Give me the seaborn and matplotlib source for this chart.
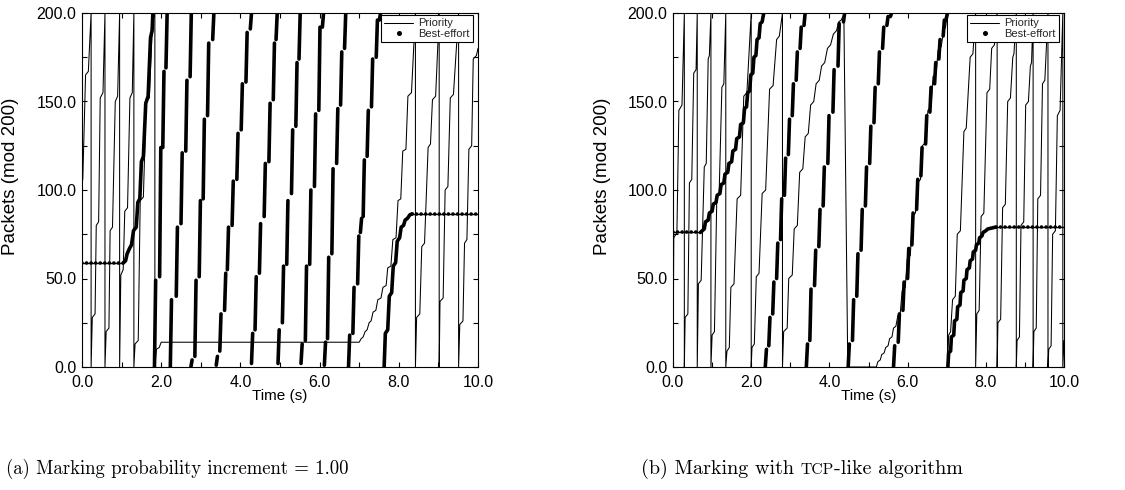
import numpy as np
import pandas as pd
import matplotlib
matplotlib.use("Agg")
import matplotlib.pyplot as plt
import seaborn as sns
from matplotlib.lines import Line2D
from matplotlib.legend_handler import HandlerLine2D
from matplotlib.ticker import MultipleLocator, FormatStrFormatter

# ---------------- panel (a): Marking probability increment = 1.00 ----------------
# Priority flow (packet number mod 200), polyline vertices
A_PRI_T = [0.00, 0.02, 0.09, 0.16, 0.23, 0.23,
           0.26, 0.33, 0.36, 0.42, 0.46, 0.53, 0.58, 0.58,
           0.61, 0.68, 0.71, 0.77, 0.84, 0.90, 0.95, 0.95,
           0.98, 1.04, 1.08, 1.15, 1.21, 1.27, 1.31, 1.31,
           1.34, 1.42, 1.47, 1.55, 1.62, 1.70, 1.78, 1.84, 1.84,
           1.88, 1.95, 2.00, 7.00,
           7.05, 7.10, 7.15, 7.20, 7.25, 7.30, 7.35, 7.42, 7.47, 7.55, 7.60, 7.68,
           7.72, 7.80, 7.85, 7.93, 7.98, 8.05, 8.10, 8.18, 8.23, 8.32, 8.42, 8.42,
           8.45, 8.53, 8.58, 8.65, 8.74, 8.80, 8.85, 8.93, 9.02, 9.02,
           9.04, 9.12, 9.17, 9.24, 9.30, 9.38, 9.51, 9.51,
           9.54, 9.62, 9.66, 9.72, 9.77, 9.84, 9.88, 9.96, 10.0]
A_PRI_Y = [105, 106, 165, 167, 200, 0,
           28, 30, 80, 82, 152, 155, 200, 0,
           20, 22, 77, 79, 150, 153, 200, 0,
           52, 55, 88, 90, 152, 155, 200, 0,
           13, 15, 94, 96, 150, 152, 195, 200, 0,
           10, 11, 14, 14,
           16, 17, 20, 21, 25, 26, 31, 32, 38, 39, 45, 46,
           56, 57, 72, 73, 94, 95, 122, 123, 153, 155, 200, 0,
           28, 30, 68, 70, 124, 126, 151, 153, 200, 0,
           37, 39, 100, 102, 152, 154, 200, 0,
           24, 26, 70, 72, 123, 125, 174, 176, 180]

# Best-effort flow: starved (flat) periods
A_FLAT_T0 = [0.00, 8.34]
A_FLAT_T1 = [1.05, 10.0]
A_FLAT_Y = [59, 86.5]
# Best-effort flow: connected staircase climbs
A_RISE_ID = [0] * 16 + [1] * 15
A_RISE_T = [1.05, 1.10, 1.14, 1.20, 1.25, 1.30, 1.37, 1.41, 1.46, 1.50, 1.55, 1.61, 1.67, 1.73, 1.77, 1.79,
            7.63, 7.66, 7.72, 7.76, 7.82, 7.86, 7.92, 7.96, 8.02, 8.06, 8.12, 8.16, 8.22, 8.28, 8.34]
A_RISE_Y = [59, 60, 64, 67, 69, 77, 79, 93, 95, 116, 119, 149, 153, 186, 190, 200,
            0, 19, 21, 40, 42, 57, 59, 71, 73, 79, 80, 83, 84, 86, 86.5]
# Best-effort flow: packet bursts (start time, first and last packet mod 200)
A_BURST_T = [1.83, 1.96, 2.04, 2.12,
             2.23, 2.38, 2.50, 2.62, 2.73,
             2.75, 2.85, 2.96, 3.06, 3.17, 3.30,
             3.39, 3.48, 3.60, 3.67, 3.79, 3.91, 4.02, 4.14, 4.25,
             4.28, 4.37, 4.48, 4.60, 4.72, 4.83, 4.90,
             4.95, 5.06, 5.17, 5.29, 5.40, 5.48,
             5.53, 5.64, 5.75, 5.87, 5.98, 6.07,
             6.12, 6.20, 6.31, 6.43, 6.53, 6.63,
             6.73, 6.84, 6.96, 7.03, 7.10, 7.20, 7.31, 7.43, 7.51]
A_BURST_Y0 = [0, 51, 124, 169,
              0, 40, 81, 122, 164,
              0, 6, 51, 95, 142, 185,
              1, 9, 32, 55, 80, 106, 134, 161, 191,
              2, 21, 53, 85, 116, 151, 185,
              2, 25, 58, 98, 136, 174,
              2, 15, 58, 102, 145, 192,
              1, 16, 64, 115, 148, 180,
              0, 19, 47, 76, 85, 119, 147, 175, 196]
A_BURST_Y1 = [49, 124, 167, 200,
              38, 79, 121, 162, 200,
              4, 49, 94, 140, 183, 200,
              6, 30, 53, 79, 105, 132, 160, 189, 200,
              19, 51, 81, 115, 149, 183, 200,
              21, 57, 94, 134, 172, 200,
              13, 57, 100, 143, 192, 200,
              14, 62, 112, 146, 178, 200,
              18, 45, 74, 84, 117, 145, 174, 196, 200]

# ---------------- panel (b): Marking with TCP-like algorithm ----------------
B_PRI_T = [0.00, 0.02, 0.10, 0.15, 0.23, 0.29, 0.29,
           0.31, 0.38, 0.42, 0.48, 0.53, 0.59, 0.62, 0.62,
           0.65, 0.72, 0.80, 0.85, 0.90, 0.93, 0.97, 0.97,
           1.00, 1.06, 1.12, 1.18, 1.25, 1.30, 1.35, 1.35,
           1.38, 1.44, 1.48, 1.56, 1.64, 1.73, 1.81, 1.89, 2.00, 2.00,
           2.02, 2.08, 2.13, 2.20, 2.28, 2.37, 2.47, 2.56, 2.65, 2.72, 2.80, 2.80,
           2.83, 2.92, 2.96, 3.05, 3.10, 3.18, 3.24, 3.32, 3.38, 3.46, 3.52, 3.60,
           3.66, 3.74, 3.80, 3.88, 3.95, 4.03, 4.10, 4.18, 4.24, 4.30, 4.37, 4.47,
           5.20, 5.24, 5.30, 5.34, 5.40, 5.44, 5.50, 5.54, 5.60, 5.64, 5.70, 5.75,
           5.81, 5.86, 5.94, 5.99, 6.07, 6.12, 6.20, 6.25, 6.33, 6.38, 6.46, 6.52,
           6.60, 6.65, 6.73, 6.78, 6.86, 6.92, 6.97, 7.02, 7.02,
           7.05, 7.10, 7.15, 7.22, 7.27, 7.35, 7.44, 7.50, 7.60, 7.67, 7.74, 7.74,
           7.77, 7.83, 7.88, 7.95, 8.03, 8.10, 8.15, 8.22, 8.29, 8.29,
           8.31, 8.38, 8.43, 8.50, 8.56, 8.63, 8.69, 8.72, 8.78, 8.78,
           8.80, 8.86, 8.90, 8.97, 9.02, 9.09, 9.14, 9.17, 9.21, 9.21,
           9.23, 9.29, 9.33, 9.40, 9.45, 9.51, 9.59, 9.59,
           9.61, 9.67, 9.71, 9.78, 9.83, 9.90, 9.97, 9.97, 10.0]
B_PRI_Y = [0, 73, 76, 145, 148, 200, 0,
           28, 30, 104, 106, 166, 168, 200, 0,
           47, 49, 113, 115, 174, 176, 200, 0,
           18, 20, 96, 98, 158, 160, 200, 0,
           9, 11, 45, 47, 95, 97, 153, 155, 200, 0,
           11, 13, 51, 53, 98, 100, 157, 159, 185, 187, 200, 0,
           20, 22, 50, 52, 78, 80, 110, 112, 130, 132, 148, 150,
           160, 162, 170, 172, 180, 182, 188, 190, 195, 196, 199, 0,
           0, 3, 4, 7, 8, 11, 12, 16, 17, 22, 23, 29,
           30, 43, 45, 61, 63, 85, 87, 104, 106, 125, 127, 145,
           147, 164, 166, 179, 181, 190, 192, 200, 0,
           18, 20, 38, 40, 75, 77, 133, 135, 175, 177, 200, 0,
           30, 32, 85, 87, 155, 157, 180, 182, 200, 0,
           25, 27, 90, 92, 150, 152, 175, 177, 200, 0,
           15, 17, 80, 82, 148, 150, 170, 172, 200, 0,
           20, 22, 95, 97, 160, 162, 200, 0,
           10, 12, 75, 77, 142, 145, 200, 0, 15]

B_FLAT_T0 = [0.00, 8.25]
B_FLAT_T1 = [0.70, 10.0]
B_FLAT_Y = [76, 79]
B_RISE_ID = [0] * 35 + [1] * 28
B_RISE_T = [0.70, 0.80, 0.83, 0.90, 0.93, 1.00, 1.03, 1.10, 1.13, 1.20, 1.23, 1.30, 1.33, 1.40,
            1.43, 1.50, 1.53, 1.60, 1.63, 1.70, 1.73, 1.80, 1.83, 1.88, 1.91, 1.96, 1.99, 2.04,
            2.07, 2.12, 2.15, 2.20, 2.23, 2.28, 2.32,
            7.03, 7.05, 7.10, 7.12, 7.18, 7.20, 7.26, 7.28, 7.34, 7.36, 7.42, 7.44, 7.50, 7.52,
            7.58, 7.60, 7.66, 7.68, 7.74, 7.76, 7.82, 7.84, 7.90, 7.93, 8.00, 8.05, 8.15, 8.25]
B_RISE_Y = [76, 78, 82, 83, 87, 88, 92, 93, 97, 98, 103, 104, 109, 110,
            115, 116, 122, 123, 129, 130, 137, 138, 146, 147, 155, 156, 165, 166,
            175, 176, 185, 186, 194, 195, 200,
            0, 8, 9, 17, 18, 26, 27, 34, 35, 42, 43, 49, 50, 55,
            56, 60, 61, 65, 66, 69, 70, 73, 74, 76, 77, 78, 78.5, 79]
B_BURST_T = [2.36, 2.45, 2.55, 2.65, 2.75, 2.85, 2.95, 3.05, 3.15, 3.25, 3.35,
             3.41, 3.50, 3.62, 3.73, 3.84, 3.96, 4.09, 4.22, 4.36,
             4.48, 4.59, 4.70, 4.81, 4.92, 5.03, 5.14, 5.25, 5.36, 5.47, 5.56,
             5.64, 5.76, 5.88, 6.00, 6.11, 6.23, 6.34, 6.46, 6.57, 6.69, 6.80, 6.91, 6.99]
B_BURST_Y0 = [0, 12, 30, 50, 72, 97, 120, 142, 162, 180, 193,
              0, 15, 46, 68, 91, 115, 144, 170, 195,
              0, 15, 40, 66, 91, 115, 138, 160, 180, 193, 198,
              0, 14, 32, 50, 69, 89, 108, 126, 144, 160, 174, 187, 197]
B_BURST_Y1 = [10, 28, 48, 70, 95, 118, 140, 160, 178, 192, 200,
              13, 44, 66, 89, 113, 142, 168, 194, 200,
              13, 38, 64, 89, 113, 136, 158, 178, 192, 198, 200,
              12, 30, 48, 67, 87, 106, 124, 142, 158, 172, 185, 196, 200]

BURST_DUR = 0.03  # each burst spans about 0.03 s

# ---------------- style ----------------
sns.set_theme(style="ticks")
plt.rcParams["font.family"] = ["Liberation Sans", "DejaVu Sans"]
plt.rcParams["axes.linewidth"] = 0.8

fig = plt.figure(figsize=(11.25, 4.9), dpi=100)
fig.patch.set_facecolor("white")
ax_a = fig.add_axes([82 / 1125, 1 - 367 / 490, 396 / 1125, 354 / 490])
ax_b = fig.add_axes([673 / 1125, 1 - 367 / 490, 391 / 1125, 354 / 490])

BE_LW = 2.6


class RightDot(HandlerLine2D):
    def get_xdata(self, legend, xdescent, ydescent, width, height, fontsize):
        return [-xdescent, -xdescent + width], [-xdescent + 0.97 * width]


def draw_panel(ax, pri_t, pri_y, f_t0, f_t1, f_y, r_id, r_t, r_y, b_t, b_y0, b_y1):
    # priority: thin continuous line
    sns.lineplot(x=pri_t, y=pri_y, ax=ax, sort=False, estimator=None,
                 color="black", lw=0.75, legend=False)
    # best-effort flats: beaded dots on a thin line
    flats = pd.DataFrame({"seg": list(range(len(f_y))) * 2,
                          "t": list(f_t0) + list(f_t1),
                          "y": list(f_y) * 2})
    sns.lineplot(data=flats, x="t", y="y", units="seg", estimator=None, sort=False,
                 ax=ax, color="black", lw=1.0, legend=False)
    sns.lineplot(data=flats, x="t", y="y", units="seg", estimator=None, sort=False,
                 ax=ax, color="black", lw=BE_LW, linestyle=(0, (0.01, 1.25)),
                 dash_capstyle="round", legend=False)
    # best-effort staircase climbs
    rises = pd.DataFrame({"seg": r_id, "t": r_t, "y": r_y})
    sns.lineplot(data=rises, x="t", y="y", units="seg", estimator=None, sort=False,
                 ax=ax, color="black", lw=BE_LW, legend=False,
                 solid_capstyle="round", solid_joinstyle="round")
    # best-effort bursts
    n = len(b_t)
    bursts = pd.DataFrame({"seg": list(range(n)) * 2,
                           "t": list(b_t) + [t + BURST_DUR for t in b_t],
                           "y": list(b_y0) + list(b_y1)})
    sns.lineplot(data=bursts, x="t", y="y", units="seg", estimator=None, sort=False,
                 ax=ax, color="black", lw=BE_LW, legend=False, solid_capstyle="round")

    ax.set_xlim(0, 10)
    ax.set_ylim(0, 200)
    ax.xaxis.set_major_locator(MultipleLocator(2))
    ax.xaxis.set_minor_locator(MultipleLocator(1))
    ax.yaxis.set_major_locator(MultipleLocator(50))
    ax.yaxis.set_minor_locator(MultipleLocator(25))
    ax.xaxis.set_major_formatter(FormatStrFormatter("%.1f"))
    ax.yaxis.set_major_formatter(FormatStrFormatter("%.1f"))
    ax.tick_params(which="both", direction="in", top=True, right=True,
                   length=3.5, width=0.8, color="black", labelsize=11.5,
                   labelcolor="black")
    ax.tick_params(axis="x", which="both", pad=6)
    ax.tick_params(axis="y", which="both", pad=4)
    for s in ax.spines.values():
        s.set_color("black")
        s.set_linewidth(0.8)
    ax.set_facecolor("white")
    ax.set_xlabel("Time (s)", fontsize=11, color="black", labelpad=-1)
    ax.set_ylabel("Packets (mod 200)", fontsize=13.5, color="black")
    ax.yaxis.set_label_coords(-0.158, 0.54)

    h_pri = Line2D([], [], color="black", lw=0.75)
    h_be = Line2D([], [], color="black", marker="o", ms=2.6, ls="none")
    leg = ax.legend([h_pri, h_be], ["Priority", "Best-effort"], loc="upper right",
                    bbox_to_anchor=(0.988, 0.994), borderaxespad=0, fontsize=8,
                    frameon=True, fancybox=False, framealpha=1, edgecolor="black",
                    borderpad=0.3, handlelength=2.6, handletextpad=0.5,
                    labelspacing=0.05, handler_map={h_be: RightDot()})
    leg.get_frame().set_linewidth(0.8)


draw_panel(ax_a, A_PRI_T, A_PRI_Y, A_FLAT_T0, A_FLAT_T1, A_FLAT_Y,
           A_RISE_ID, A_RISE_T, A_RISE_Y, A_BURST_T, A_BURST_Y0, A_BURST_Y1)
draw_panel(ax_b, B_PRI_T, B_PRI_Y, B_FLAT_T0, B_FLAT_T1, B_FLAT_Y,
           B_RISE_ID, B_RISE_T, B_RISE_Y, B_BURST_T, B_BURST_Y0, B_BURST_Y1)

# ---------------- captions (Computer Modern look) ----------------
CAP_Y = 1 - 474 / 490
fig.text(6 / 1125, CAP_Y, "(a) Marking probability increment = 1.00",
         fontfamily="cmr10", fontsize=13.5, ha="left", va="baseline", color="black")

fig.canvas.draw()
renderer = fig.canvas.get_renderer()
CAP_B = 14.5
parts = [("(b) Marking with ", CAP_B), ("TCP", CAP_B * 0.78), ("-like algorithm", CAP_B)]
x = 641 / 1125
for s, size in parts:
    t = fig.text(x, CAP_Y, s, fontfamily="cmr10", fontsize=size, ha="left",
                 va="baseline", color="black")
    bb = t.get_window_extent(renderer=renderer)
    x += bb.width / fig.bbox.width

fig.savefig("out.png", dpi=100, facecolor="white")
